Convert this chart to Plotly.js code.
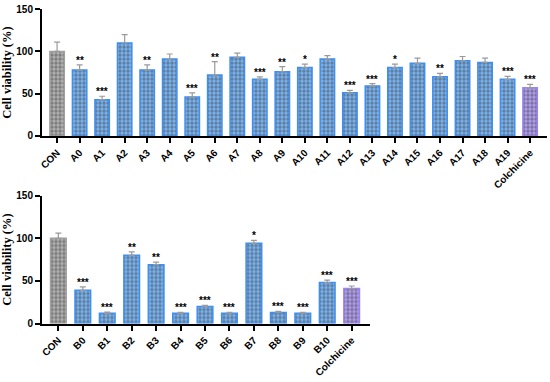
<!DOCTYPE html>
<html>
<head>
<meta charset="utf-8">
<script src="https://cdn.plot.ly/plotly-3.0.1.min.js"></script>
<style>html,body{margin:0;padding:0;background:#fff;}#chart{width:550px;height:382px;}</style>
</head>
<body>
<div id="chart"></div>
<script>
// ---- Data ----
var catsA = ['CON','A0','A1','A2','A3','A4','A5','A6','A7','A8','A9','A10','A11','A12','A13','A14','A15','A16','A17','A18','A19','Colchicine'];
var meanA = [100,78,43,110,78,91,46,72,93,67,76,81,91,51,59,81,86,70,89,87,67,57];
var errA  = [11,6,4,10,6,6,5,16,5,3,6,4,4,3,3,4,6,4,5,5,3.5,4];
var sigA  = ['','**','***','','**','','***','**','','***','**','*','','***','***','*','','**','','','***','***'];

var catsB = ['CON','B0','B1','B2','B3','B4','B5','B6','B7','B8','B9','B10','Colchicine'];
var meanB = [100,39,12,80,69,12,20,12,94,13,12,48,41];
var errB  = [6,4,1.5,4,3,1.2,1.2,1,3.5,1.3,1,3,3];
var sigB  = ['','***','***','**','**','***','***','***','*','***','***','***','***'];

var yTicks = [0,50,100,150];

// ---- Styling ----
function fillFor(c){ return c==='CON' ? '#b5b5b5' : (c==='Colchicine' ? '#b3a0f4' : '#7ab7f7'); }
function lineFor(c){ return c==='CON' ? '#a0a0a0' : (c==='Colchicine' ? '#9b84ee' : '#3f8ff0'); }

function barTrace(cats, vals, errs, xa, ya){
  return {
    type:'bar', x:cats, y:vals, xaxis:xa, yaxis:ya, width:0.64,
    marker:{
      color:cats.map(fillFor),
      line:{color:cats.map(lineFor), width:1.5},
      pattern:{shape:'.', fillmode:'overlay', fgcolor:'#ffffff', size:4, solidity:0.6}
    },
    error_y:{type:'data', symmetric:false, array:errs, arrayminus:errs.map(function(){return 0;}), color:'#9a9a9a', thickness:1.2, width:3},
    hoverinfo:'skip', showlegend:false
  };
}

var data = [barTrace(catsA, meanA, errA, 'x', 'y'), barTrace(catsB, meanB, errB, 'x2', 'y2')];

var annotations = [];
function addStars(cats, vals, errs, sig, xr, yr){
  for (var i=0;i<cats.length;i++){
    if (!sig[i]) continue;
    annotations.push({xref:xr, yref:yr, x:cats[i], y:vals[i]+errs[i], text:sig[i], showarrow:false,
      yanchor:'bottom', yshift:-3, font:{family:'Liberation Sans, Arial, sans-serif', size:10, color:'#000', weight:'bold'}});
  }
}
addStars(catsA, meanA, errA, sigA, 'x', 'y');
addStars(catsB, meanB, errB, sigB, 'x2', 'y2');

var tickFont = {family:'Liberation Sans, Arial, sans-serif', size:10, color:'#000', weight:'bold'};
var titleFont = {family:'Liberation Serif, Times New Roman, serif', size:12.5, color:'#000', weight:'bold'};

function xAxis(dom, anchor, n){
  return {domain:dom, anchor:anchor, type:'category', range:[-0.67, n-1+0.75], showline:true, linecolor:'#000', linewidth:2,
    ticks:'outside', ticklen:5, tickwidth:2, tickcolor:'#000', tickangle:-45, tickfont:tickFont,
    showgrid:false, zeroline:false, automargin:false, fixedrange:true};
}
function yAxis(dom, anchor){
  return {domain:dom, anchor:anchor, range:[0,150], tickvals:yTicks, ticktext:yTicks.map(String),
    showline:true, linecolor:'#000', linewidth:2, ticks:'outside', ticklen:5, tickwidth:2, tickcolor:'#000',
    tickfont:tickFont, showgrid:false, zeroline:false, automargin:false, fixedrange:true,
    title:{text:'Cell viability (%)', font:titleFont, standoff:4}};
}

var layout = {
  width:550, height:382, margin:{l:0,r:0,t:0,b:0},
  paper_bgcolor:'#fff', plot_bgcolor:'#fff', bargap:0.36,
  xaxis: xAxis([42/550, 547/550], 'y', catsA.length),
  yaxis: yAxis([0.644, 0.976], 'x'),
  xaxis2: xAxis([42/550, 370/550], 'y2', catsB.length),
  yaxis2: yAxis([0.153, 0.488], 'x2'),
  annotations: annotations
};

Plotly.newPlot('chart', data, layout, {displayModeBar:false, staticPlot:true});
</script>
</body>
</html>
